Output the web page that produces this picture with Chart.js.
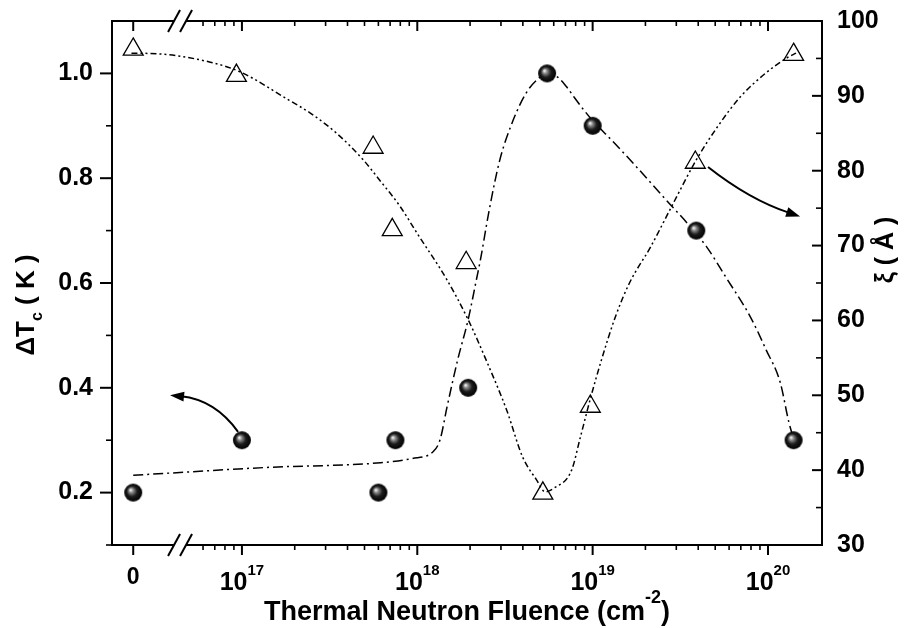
<!DOCTYPE html>
<html>
<head>
<meta charset="utf-8">
<title>Thermal neutron fluence</title>
<script src="https://cdn.jsdelivr.net/npm/chart.js@4"></script>
<style>
  html, body { margin: 0; padding: 0; background: #fff; }
  canvas { display: block; }
</style>
</head>
<body>
<canvas id="chart" width="909" height="628"></canvas>
<script>
// x axis is log10(fluence); the "0" column sits left of the axis break
const ZERO_POS = 16.38;
const BREAK_POS = 16.647;
const X_MIN = 16.259;
const X_MAX = 20.308;

// Delta Tc (K), spheres, left axis
const tcFluence = [0, 1.0e17, 6.0e17, 7.5e17, 1.95e18, 5.5e18, 1.0e19, 3.9e19, 1.4e20];
const tcValues = [0.2, 0.3, 0.2, 0.3, 0.4, 1.0, 0.9, 0.7, 0.3];

// xi (Angstrom), open triangles, right axis
const xiFluence = [0, 9.3e16, 5.6e17, 7.2e17, 1.9e18, 5.2e18, 9.7e18, 3.85e19, 1.4e20];
const xiValues = [96.2, 92.7, 83.1, 72.1, 67.7, 36.9, 48.5, 81.1, 95.5];

// guide curves (x as log10 fluence on the broken axis)
const tcFitLogX = [16.38, 17.14, 17.79, 17.97, 18.09, 18.13, 18.17, 18.23, 18.29, 18.34, 18.36, 18.41, 18.47,
  18.54, 18.62, 18.69, 18.75, 18.80, 18.85, 18.90, 18.95, 19.00, 19.11, 19.23, 19.42, 19.54, 19.65, 19.76,
  19.90, 19.99, 20.07, 20.12, 20.15];
const tcFitY = [0.233, 0.248, 0.257, 0.265, 0.278, 0.301, 0.364, 0.453, 0.530, 0.611, 0.644, 0.739, 0.834,
  0.905, 0.962, 0.990, 1.000, 0.993, 0.975, 0.952, 0.930, 0.910, 0.872, 0.829, 0.758, 0.714, 0.669, 0.611,
  0.535, 0.472, 0.410, 0.333, 0.299];

const xiFitLogX = [16.37, 16.53, 16.82, 16.99, 17.27, 17.39, 17.54, 17.69, 17.79, 17.90, 18.00, 18.17, 18.29,
  18.40, 18.51, 18.60, 18.68, 18.73, 18.78, 18.88, 18.93, 18.99, 19.05, 19.13, 19.21, 19.33, 19.45, 19.59,
  19.71, 19.84, 19.99, 20.11, 20.16];
const xiFitY = [95.7, 95.6, 94.5, 93.2, 89.4, 87.7, 85.0, 81.5, 78.6, 75.3, 71.6, 65.4, 60.1,
  54.3, 48.0, 41.8, 38.7, 37.1, 37.6, 40.0, 44.4, 49.8, 54.7, 60.5, 65.0, 69.8, 75.2, 81.4,
  85.8, 89.8, 93.1, 95.1, 95.7];

const yLeftTicks = [0.2, 0.4, 0.6, 0.8, 1.0];
const yLeftMinor = [0.1, 0.3, 0.5, 0.7, 0.9];
const yRightTicks = [30, 40, 50, 60, 70, 80, 90, 100];
const yRightMinor = [35, 45, 55, 65, 75, 85, 95];
const xDecades = [17, 18, 19, 20];

const FONT = "'Liberation Sans', Arial, sans-serif";

function toPos(f) {
    return f === 0 ? ZERO_POS : Math.log10(f);
}

function sphere(r) {
    const c = document.createElement('canvas');
    const s = r * 2 + 2;
    c.width = s;
    c.height = s;
    const g = c.getContext('2d');
    const grad = g.createRadialGradient(s / 2 - r * 0.3, s / 2 - r * 0.3, 0.5, s / 2, s / 2, r);
    grad.addColorStop(0, '#f2f2f2');
    grad.addColorStop(0.2, '#8c8c8c');
    grad.addColorStop(0.55, '#1c1c1c');
    grad.addColorStop(1, '#000');
    g.fillStyle = grad;
    g.beginPath();
    g.arc(s / 2, s / 2, r, 0, Math.PI * 2);
    g.fill();
    return c;
}

function drawParts(ctx, parts, x, y) {
    let total = 0;
    parts.forEach(p => {
        ctx.font = `bold ${p.size}px ${FONT}`;
        p.w = ctx.measureText(p.t).width;
        total += p.w;
    });
    let cx = x - total / 2;
    parts.forEach(p => {
        ctx.font = `bold ${p.size}px ${FONT}`;
        ctx.fillText(p.t, cx, y + (p.dy || 0));
        cx += p.w;
    });
}

function arrow(ctx, p0, c, p1) {
    const ang = Math.atan2(p1.y - c.y, p1.x - c.x);
    const len = 14, half = 5;
    const end = { x: p1.x - Math.cos(ang) * len * 0.8, y: p1.y - Math.sin(ang) * len * 0.8 };
    ctx.beginPath();
    ctx.moveTo(p0.x, p0.y);
    ctx.quadraticCurveTo(c.x, c.y, end.x, end.y);
    ctx.stroke();
    ctx.beginPath();
    ctx.moveTo(p1.x, p1.y);
    ctx.lineTo(p1.x - Math.cos(ang) * len + Math.sin(ang) * half, p1.y - Math.sin(ang) * len - Math.cos(ang) * half);
    ctx.lineTo(p1.x - Math.cos(ang) * len - Math.sin(ang) * half, p1.y - Math.sin(ang) * len + Math.cos(ang) * half);
    ctx.closePath();
    ctx.fill();
}

// frame, ticks, broken axis, labels and arrows
const decorations = {
    id: 'decorations',
    afterDraw(chart) {
        const { ctx, chartArea: a, scales } = chart;
        const xs = scales.x, yl = scales.y, yr = scales.y2;
        const seg = (x1, y1, x2, y2) => {
            ctx.beginPath();
            ctx.moveTo(x1, y1);
            ctx.lineTo(x2, y2);
            ctx.stroke();
        };
        ctx.save();
        ctx.strokeStyle = '#000';
        ctx.fillStyle = '#000';
        ctx.lineCap = 'butt';

        const bx = xs.getPixelForValue(BREAK_POS);
        ctx.lineWidth = 2;
        seg(a.left, a.top - 1, a.left, a.bottom + 1);
        seg(a.right, a.top - 1, a.right, a.bottom + 1);
        seg(a.left - 1, a.top, bx - 6, a.top);
        seg(bx + 6, a.top, a.right + 1, a.top);
        seg(a.left - 1, a.bottom, bx - 6, a.bottom);
        seg(bx + 6, a.bottom, a.right + 1, a.bottom);
        [a.top, a.bottom].forEach(yy => {
            seg(bx - 12, yy + 11, bx, yy - 11);
            seg(bx, yy + 11, bx + 12, yy - 11);
        });

        // x ticks: outward at the bottom, inward at the top
        const major = [ZERO_POS].concat(xDecades);
        const minor = [6e16, 7e16, 8e16, 9e16];
        for (let d = 17; d <= 20; d++) {
            for (let k = 2; k <= 9; k++) minor.push(k * Math.pow(10, d));
        }
        ctx.lineWidth = 2;
        major.forEach(u => {
            const px = xs.getPixelForValue(u);
            seg(px, a.bottom, px, a.bottom + 10);
            seg(px, a.top, px, a.top + 10);
        });
        ctx.lineWidth = 1.6;
        minor.forEach(f => {
            const u = Math.log10(f);
            if (u >= X_MAX - 0.01) return;
            const px = xs.getPixelForValue(u);
            seg(px, a.bottom, px, a.bottom + 5);
            seg(px, a.top, px, a.top + 5);
        });

        // left axis ticks outward, right axis ticks inward
        ctx.lineWidth = 2;
        yLeftTicks.forEach(v => { const py = yl.getPixelForValue(v); seg(a.left - 12, py, a.left, py); });
        yRightTicks.forEach(v => { const py = yr.getPixelForValue(v); seg(a.right - 10, py, a.right, py); });
        ctx.lineWidth = 1.6;
        yLeftMinor.forEach(v => { const py = yl.getPixelForValue(v); seg(a.left - 6, py, a.left, py); });
        yRightMinor.forEach(v => { const py = yr.getPixelForValue(v); seg(a.right - 6, py, a.right, py); });

        // x tick labels
        ctx.textAlign = 'left';
        ctx.textBaseline = 'alphabetic';
        drawParts(ctx, [{ t: '0', size: 23 }], xs.getPixelForValue(ZERO_POS), 584);
        xDecades.forEach(d => {
            drawParts(ctx, [{ t: '10', size: 25 }, { t: String(d), size: 15, dy: -15 }],
                xs.getPixelForValue(d), 590);
        });

        // axis titles
        drawParts(ctx, [
            { t: 'Thermal Neutron Fluence (cm', size: 27 },
            { t: '-2', size: 18, dy: -17 },
            { t: ')', size: 27 }
        ], (a.left + a.right) / 2, 620);

        ctx.save();
        ctx.translate(34, 305);
        ctx.rotate(-Math.PI / 2);
        drawParts(ctx, [{ t: '\u0394T', size: 26 }, { t: 'c', size: 16, dy: 8 }, { t: ' ( K )', size: 26 }], 0, 0);
        ctx.restore();

        ctx.save();
        ctx.translate(893, 250);
        ctx.rotate(-Math.PI / 2);
        drawParts(ctx, [{ t: '\u03BE ( \u00C5 )', size: 25 }], 0, 0);
        ctx.restore();

        // arrows pointing at each series' axis
        ctx.lineWidth = 2;
        const pl = (u, v) => ({ x: xs.getPixelForValue(u), y: yl.getPixelForValue(v) });
        const pr = (u, v) => ({ x: xs.getPixelForValue(u), y: yr.getPixelForValue(v) });
        arrow(ctx, pl(16.978, 0.316), pl(16.846, 0.377), pl(16.590, 0.386));
        arrow(ctx, pr(19.658, 80.5), pr(19.897, 76.1), pr(20.183, 73.9));

        ctx.restore();
    }
};

document.addEventListener('DOMContentLoaded', function() {
    const ctx = document.getElementById('chart').getContext('2d');
    const tickFont = { family: FONT, size: 25, weight: 'bold' };

    new Chart(ctx, {
        type: 'scatter',
        data: {
            datasets: [
                {
                    label: 'dTc',
                    data: tcFluence.map((f, i) => ({ x: toPos(f), y: tcValues[i] })),
                    yAxisID: 'y',
                    pointStyle: sphere(9),
                    pointRadius: 9,
                    order: 0
                },
                {
                    label: 'xi',
                    data: xiFluence.map((f, i) => ({ x: toPos(f), y: xiValues[i] })),
                    yAxisID: 'y2',
                    pointStyle: 'triangle',
                    pointRadius: 11.5,
                    pointBorderColor: '#000',
                    pointBackgroundColor: 'rgba(0,0,0,0)',
                    pointBorderWidth: 1.3,
                    order: 0
                },
                {
                    label: 'dTc fit',
                    data: tcFitLogX.map((u, i) => ({ x: u, y: tcFitY[i] })),
                    yAxisID: 'y',
                    showLine: true,
                    pointRadius: 0,
                    borderColor: '#000',
                    borderWidth: 1.5,
                    borderDash: [10, 4, 2, 4],
                    cubicInterpolationMode: 'monotone',
                    order: 1
                },
                {
                    label: 'xi fit',
                    data: xiFitLogX.map((u, i) => ({ x: u, y: xiFitY[i] })),
                    yAxisID: 'y2',
                    showLine: true,
                    pointRadius: 0,
                    borderColor: '#000',
                    borderWidth: 1.5,
                    borderDash: [6, 3, 2, 3, 2, 3],
                    cubicInterpolationMode: 'monotone',
                    order: 1
                }
            ]
        },
        options: {
            responsive: false,
            animation: false,
            devicePixelRatio: 1,
            layout: { padding: { top: 21 } },
            plugins: {
                legend: { display: false },
                tooltip: { enabled: false }
            },
            scales: {
                x: {
                    type: 'linear',
                    position: 'bottom',
                    min: X_MIN,
                    max: X_MAX,
                    ticks: { display: false },
                    grid: { display: false, drawTicks: false },
                    border: { display: false },
                    afterFit: s => { s.height = 83; s.paddingLeft = 0; s.paddingRight = 0; }
                },
                y: {
                    type: 'linear',
                    position: 'left',
                    min: 0.1,
                    max: 1.1,
                    afterBuildTicks: s => { s.ticks = yLeftTicks.map(v => ({ value: v })); },
                    ticks: { font: tickFont, color: '#000', padding: 19, callback: v => v.toFixed(1) },
                    grid: { display: false, drawTicks: false },
                    border: { display: false },
                    afterFit: s => { s.width = 112; s.paddingTop = 0; s.paddingBottom = 0; }
                },
                y2: {
                    type: 'linear',
                    position: 'right',
                    min: 30,
                    max: 100,
                    afterBuildTicks: s => { s.ticks = yRightTicks.map(v => ({ value: v })); },
                    ticks: { font: tickFont, color: '#000', padding: 15, callback: v => String(v) },
                    grid: { display: false, drawTicks: false },
                    border: { display: false },
                    afterFit: s => { s.width = 87; s.paddingTop = 0; s.paddingBottom = 0; }
                }
            }
        },
        plugins: [decorations]
    });
});
</script>
</body>
</html>
